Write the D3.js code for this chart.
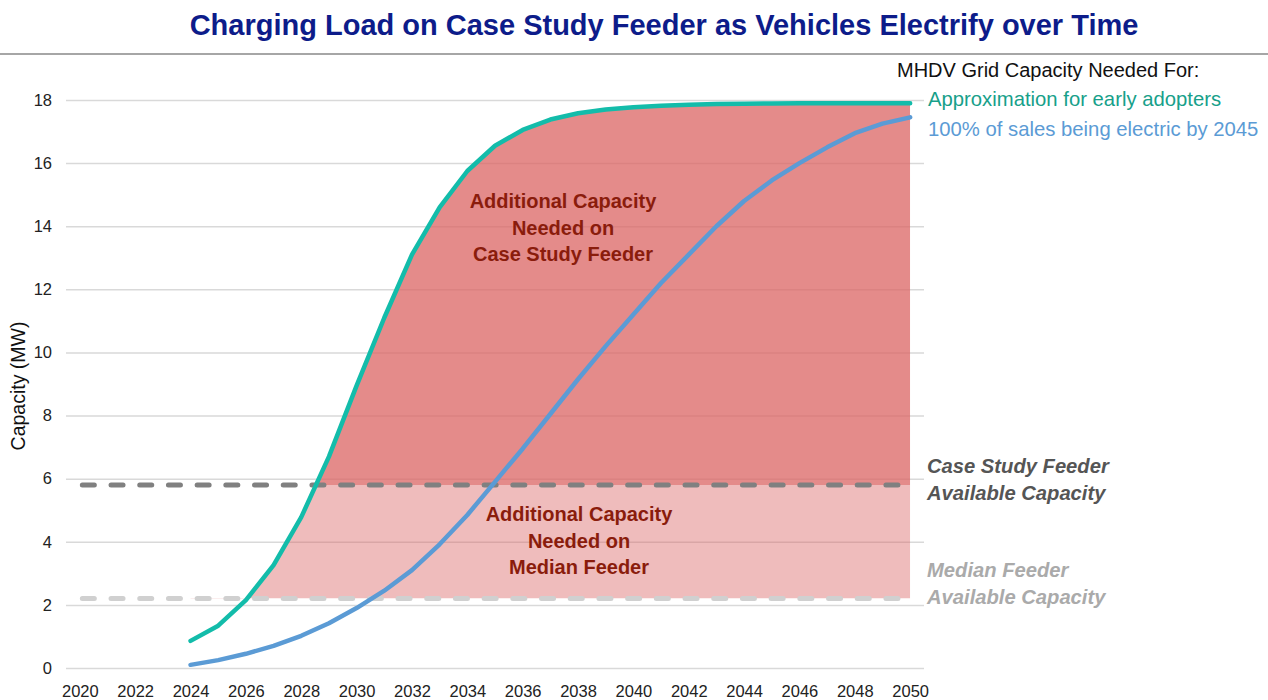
<!DOCTYPE html>
<html>
<head>
<meta charset="utf-8">
<script src="https://cdn.jsdelivr.net/npm/d3@7"></script>
<style>
  body { margin: 0; background: #fff; }
  svg { display: block; font-family: "Liberation Sans", Arial, sans-serif; }
</style>
</head>
<body>
<div id="chart"></div>
<script>
// values (MW)
const years = [2024, 2025, 2026, 2027, 2028, 2029, 2030, 2031, 2032, 2033, 2034, 2035, 2036, 2037,
               2038, 2039, 2040, 2041, 2042, 2043, 2044, 2045, 2046, 2047, 2048, 2049, 2050];
const earlyAdopters = [0.86, 1.34, 2.15, 3.26, 4.78, 6.7, 8.95, 11.1, 13.1, 14.6, 15.75, 16.55, 17.05, 17.38,
                       17.58, 17.7, 17.77, 17.82, 17.85, 17.87, 17.88, 17.89, 17.9, 17.9, 17.9, 17.9, 17.9];
const sales2045 = [0.1, 0.25, 0.45, 0.7, 1.02, 1.42, 1.9, 2.45, 3.1, 3.92, 4.85, 5.9, 6.95, 8.05,
                   9.15, 10.2, 11.2, 12.2, 13.1, 14.0, 14.8, 15.45, 16.0, 16.5, 16.95, 17.25, 17.45];
const caseStudyCapacity = 5.8;
const medianCapacity = 2.2;
const yTicks = [0, 2, 4, 6, 8, 10, 12, 14, 16, 18];
const xTicks = [2020, 2022, 2024, 2026, 2028, 2030, 2032, 2034, 2036, 2038, 2040, 2042, 2044, 2046, 2048, 2050];
const xDomain = [2020, 2050];

const width = 1268, height = 700;
const margin = { left: 66, right: 344, top: 100, bottom: 32 };

const svg = d3.select("#chart").append("svg")
    .attr("width", width)
    .attr("height", height)
    .attr("viewBox", [0, 0, width, height]);

// category style x axis: half a year of padding on each side
const x = d3.scaleLinear()
    .domain([xDomain[0] - 0.5, xDomain[1] + 0.5])
    .range([margin.left, width - margin.right]);
const y = d3.scaleLinear()
    .domain([0, 18])
    .range([height - margin.bottom, margin.top]);

// title + rule under it
svg.append("text")
    .attr("x", 664)
    .attr("y", 35)
    .attr("text-anchor", "middle")
    .attr("font-size", 29)
    .attr("font-weight", "bold")
    .attr("fill", "#0d1c8a")
    .text("Charging Load on Case Study Feeder as Vehicles Electrify over Time");

svg.append("line")
    .attr("x1", 0).attr("x2", width)
    .attr("y1", 54).attr("y2", 54)
    .attr("stroke", "#a6a6a6")
    .attr("stroke-width", 2);

// gridlines + y labels
const yAxis = svg.append("g")
    .attr("transform", `translate(${margin.left},0)`)
    .call(d3.axisLeft(y).tickValues(yTicks).tickSize(-(width - margin.left - margin.right)).tickPadding(14));
yAxis.select(".domain").remove();
yAxis.selectAll(".tick line").attr("stroke", "#d9d9d9").attr("stroke-width", 1.5);
yAxis.selectAll(".tick text").attr("font-size", 16.5).attr("fill", "#222")
    .attr("font-family", "Liberation Sans, Arial, sans-serif");

const xAxis = svg.append("g")
    .attr("transform", `translate(0,${y(0)})`)
    .call(d3.axisBottom(x).tickValues(xTicks).tickFormat(d3.format("d")).tickSize(0).tickPadding(17));
xAxis.select(".domain").remove();
xAxis.selectAll(".tick text").attr("font-size", 16.5).attr("fill", "#222")
    .attr("font-family", "Liberation Sans, Arial, sans-serif");

svg.append("text")
    .attr("transform", `translate(25,${(y(0) + y(18)) / 2 + 2}) rotate(-90)`)
    .attr("text-anchor", "middle")
    .attr("font-size", 19.5)
    .attr("fill", "#111")
    .text("Capacity (MW)");

// shaded "additional capacity" bands, area under the early adopter curve
const green = years.map((yr, i) => ({ year: yr, v: earlyAdopters[i] }));
const blue = years.map((yr, i) => ({ year: yr, v: sales2045[i] }));

const defs = svg.append("defs");
defs.append("clipPath").attr("id", "clip-median")
    .append("rect")
    .attr("x", x(xDomain[0] - 0.5)).attr("width", x(xDomain[1]) - x(xDomain[0] - 0.5))
    .attr("y", y(caseStudyCapacity)).attr("height", y(medianCapacity) - y(caseStudyCapacity));
defs.append("clipPath").attr("id", "clip-case")
    .append("rect")
    .attr("x", x(xDomain[0] - 0.5)).attr("width", x(xDomain[1]) - x(xDomain[0] - 0.5))
    .attr("y", y(18.5)).attr("height", y(caseStudyCapacity) - y(18.5));

const band = d3.area()
    .x(d => x(d.year))
    .y0(y(medianCapacity))
    .y1(d => y(d.v));

svg.append("path")
    .datum(green)
    .attr("clip-path", "url(#clip-median)")
    .attr("fill", "rgb(219,100,99)")
    .attr("fill-opacity", 0.43)
    .attr("d", band);
svg.append("path")
    .datum(green)
    .attr("clip-path", "url(#clip-case)")
    .attr("fill", "rgb(219,100,99)")
    .attr("fill-opacity", 0.75)
    .attr("d", band);

// available capacity dashed lines
const capLines = [
    { v: caseStudyCapacity, color: "#808080" },
    { v: medianCapacity, color: "#d0d0d0" }
];
svg.append("g").selectAll("line")
    .data(capLines)
    .join("line")
        .attr("x1", x(xDomain[0]) + 2.5).attr("x2", x(xDomain[1]))
        .attr("y1", d => y(d.v)).attr("y2", d => y(d.v))
        .attr("stroke", d => d.color)
        .attr("stroke-width", 5)
        .attr("stroke-linecap", "round")
        .attr("stroke-dasharray", "12,16.7");

// the two load curves
const line = d3.line().x(d => x(d.year)).y(d => y(d.v));
svg.append("path").datum(blue)
    .attr("fill", "none").attr("stroke", "#5b9bd5").attr("stroke-width", 4.5)
    .attr("stroke-linecap", "round").attr("stroke-linejoin", "round")
    .attr("d", line);
svg.append("path").datum(green)
    .attr("fill", "none").attr("stroke", "#13bcaa").attr("stroke-width", 4.5)
    .attr("stroke-linecap", "round").attr("stroke-linejoin", "round")
    .attr("d", line);

// legend
const legend = [
    { text: "MHDV Grid Capacity Needed For:", x: 897, y: 77, color: "#111", size: 20 },
    { text: "Approximation for early adopters", x: 928, y: 106, color: "#17a08a", size: 20.3 },
    { text: "100% of sales being electric by 2045", x: 928, y: 136, color: "#5b9bd5", size: 20.3 }
];
svg.append("g").selectAll("text")
    .data(legend)
    .join("text")
        .attr("x", d => d.x).attr("y", d => d.y)
        .attr("font-size", d => d.size)
        .attr("fill", d => d.color)
        .text(d => d.text);

// capacity labels on the right
const capLabels = [
    { lines: ["Case Study Feeder", "Available Capacity"], y: 473, color: "#555" },
    { lines: ["Median Feeder", "Available Capacity"], y: 577, color: "#aaa" }
];
capLabels.forEach(lab => {
    svg.append("text")
        .attr("x", 927).attr("y", lab.y)
        .attr("font-size", 20.2)
        .attr("font-weight", "bold")
        .attr("font-style", "italic")
        .attr("fill", lab.color)
        .selectAll("tspan")
        .data(lab.lines)
        .join("tspan")
            .attr("x", 927)
            .attr("dy", (d, i) => i ? 27 : 0)
            .text(d => d);
});

// labels inside the shaded bands
const bandLabels = [
    { lines: ["Additional Capacity", "Needed on", "Case Study Feeder"], x: 563, y: 208 },
    { lines: ["Additional Capacity", "Needed on", "Median Feeder"], x: 579, y: 521 }
];
bandLabels.forEach(lab => {
    svg.append("text")
        .attr("x", lab.x).attr("y", lab.y)
        .attr("text-anchor", "middle")
        .attr("font-size", 20)
        .attr("font-weight", "bold")
        .attr("fill", "#8a1c0c")
        .selectAll("tspan")
        .data(lab.lines)
        .join("tspan")
            .attr("x", lab.x)
            .attr("dy", (d, i) => i ? 26.5 : 0)
            .text(d => d);
});
</script>
</body>
</html>
